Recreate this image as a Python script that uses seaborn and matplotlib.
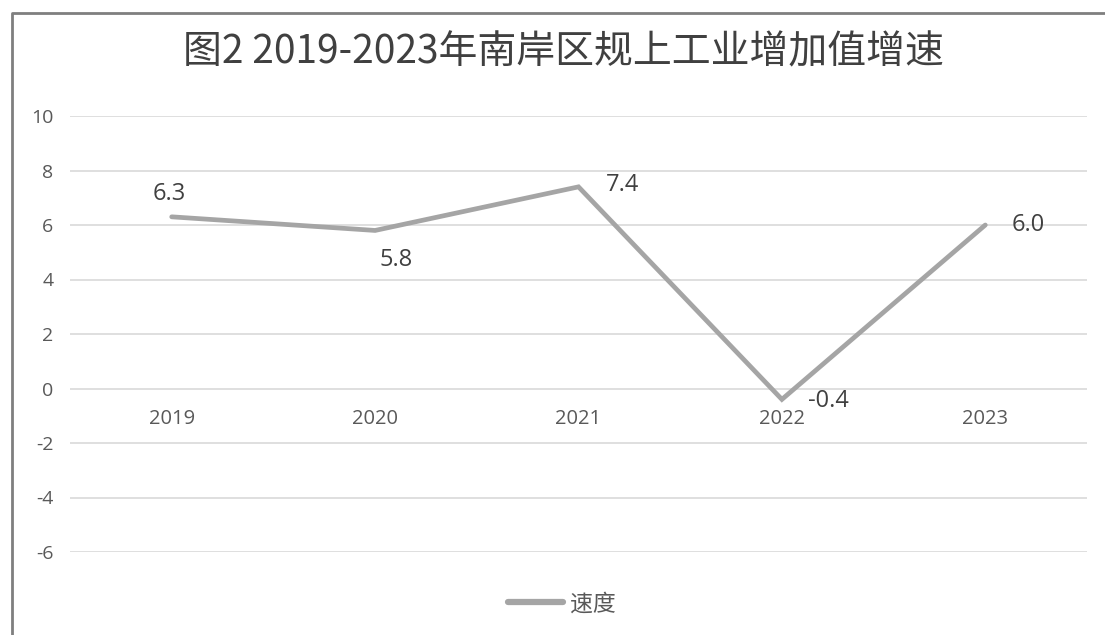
import matplotlib
matplotlib.use("Agg")
import matplotlib.pyplot as plt
import seaborn as sns
from matplotlib.lines import Line2D

# data
years = ["2019", "2020", "2021", "2022", "2023"]
growth = [6.3, 5.8, 7.4, -0.4, 6.0]
series_name = "速度"
title = "图2 2019-2023年南岸区规上工业增加值增速"
y_ticks = [-6, -4, -2, 0, 2, 4, 6, 8, 10]

sns.set_theme(style="white")
plt.rcParams["font.family"] = ["Open Sans", "Noto Sans CJK SC", "DejaVu Sans"]

line_color = "#A5A5A5"
text_color = "#595959"

fig = plt.figure(figsize=(11.05, 6.35), dpi=100)
ax = fig.add_axes([70 / 1105, 1 - 552 / 635, 1017 / 1105, 436 / 635])

sns.lineplot(x=years, y=growth, ax=ax, color=line_color, linewidth=3.4,
             sort=False, legend=False, solid_capstyle="round",
             solid_joinstyle="miter")

ax.set_xlim(-0.5, len(years) - 0.5)
ax.set_ylim(y_ticks[0], y_ticks[-1])
ax.set_yticks(y_ticks)
ax.set_yticklabels([str(t) for t in y_ticks], fontsize=14, color=text_color)
ax.tick_params(axis="y", length=0, pad=12)
ax.grid(axis="y", color="#D9D9D9", linewidth=1.2)
ax.set_axisbelow(True)
for s in ax.spines.values():
    s.set_visible(False)
ax.set_xlabel("")
ax.set_ylabel("")

# category labels sit just under the zero line
ax.set_xticks([])
for i, yr in enumerate(years):
    ax.annotate(yr, xy=(i, 0), xytext=(0, -22), textcoords="offset points",
                ha="center", va="center", fontsize=14.5, color=text_color)

# data labels (offsets in points)
label_pos = [((-1.5, 16.5), "center"), ((15, -21), "center"), ((20, 1), "left"),
             ((19, -1), "left"), ((19, 0), "left")]
for i, (v, ((dx, dy), ha)) in enumerate(zip(growth, label_pos)):
    ax.annotate(f"{v:.1f}", xy=(i, v), xytext=(dx, dy), textcoords="offset points",
                ha=ha, va="center", fontsize=17, color="#404040")

fig.text(563 / 1105, 1 - 52 / 635, title, ha="center", va="center",
         fontsize=28, color="#404040", family=["Noto Sans CJK SC", "DejaVu Sans"])

handle = Line2D([], [], color=line_color, linewidth=4.5, solid_capstyle="round")
fig.legend([handle], [series_name], loc="center", bbox_to_anchor=(562 / 1105, 1 - 604 / 635),
           frameon=False, handlelength=2.4, handletextpad=0.3,
           labelcolor=text_color, prop={"family": ["Noto Sans CJK SC", "DejaVu Sans"], "size": 16.5})

# outer chart frame (top and left edges visible in the reference)
fig.add_artist(Line2D([12 / 1105, 12 / 1105, 1.0], [0.0, 1 - 13 / 635, 1 - 13 / 635],
                      transform=fig.transFigure, color="#7F7F7F", linewidth=2))

fig.savefig("out.png", dpi=100, facecolor="white")
